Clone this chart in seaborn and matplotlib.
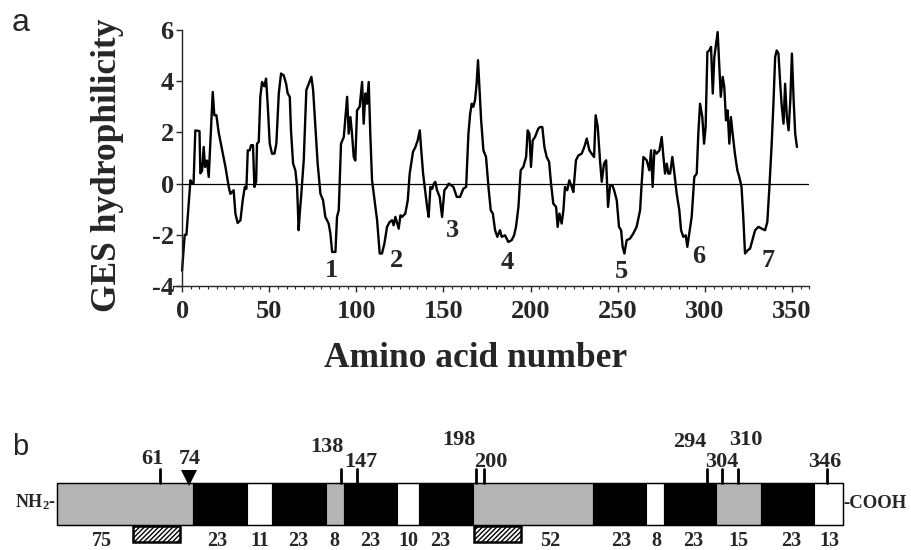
import numpy as np
import pandas as pd
import matplotlib.pyplot as plt
import seaborn as sns
from matplotlib.patches import Rectangle
from matplotlib.ticker import MultipleLocator

# --- panel a: GES hydrophilicity profile ---
residue = [
    0.0, 1.5, 2.5, 4.8, 5.7, 6.6, 7.6, 10.0, 10.5, 11.5, 12.4, 13.2, 14.3, 15.3, 17.6,
    18.5, 19.7, 21.0, 23.0, 24.9, 26.8, 27.7, 29.6, 30.6, 31.9, 33.5, 34.8, 36.0, 36.9,
    37.7, 38.8, 39.6, 40.7, 41.5, 42.5, 43.0, 44.0, 44.9, 45.9, 47.2, 48.2, 49.2, 50.3,
    51.6, 53.0, 54.1, 55.5, 56.8, 58.3, 59.7, 60.6, 61.8, 62.5, 63.7, 65.0, 66.0, 66.9,
    67.5, 68.3, 69.8, 71.3, 72.7, 74.2, 75.2, 76.5, 77.8, 79.4, 80.9, 82.2, 84.1, 85.1,
    86.1, 88.0, 88.9, 89.9, 91.2, 92.8, 94.7, 95.6, 96.6, 97.5, 98.5, 99.4, 100.4, 101.9,
    103.3, 104.2, 105.2, 106.1, 107.1, 108.0, 109.0, 110.9, 111.9, 113.4, 114.7, 116.1,
    117.6, 119.1, 120.5, 121.4, 122.4, 124.3, 125.3, 126.2, 128.1, 129.5, 130.6, 132.5,
    133.9, 135.2, 136.4, 137.1, 138.3, 139.6, 140.6, 141.5, 142.5, 143.5, 144.5, 145.3,
    146.3, 147.8, 149.2, 150.5, 152.0, 153.0, 155.7, 157.6, 159.5, 161.4, 163.0, 164.3,
    165.3, 166.2, 167.1, 168.1, 169.0, 169.8, 170.6, 171.6, 172.9, 174.4, 175.8, 177.1,
    178.3, 179.6, 180.9, 182.4, 183.4, 185.3, 187.2, 189.1, 190.5, 191.6, 193.0, 194.3,
    195.8, 197.4, 198.3, 199.3, 200.2, 201.2, 202.5, 204.4, 205.4, 206.7, 207.9, 209.2,
    210.6, 211.7, 213.0, 214.6, 215.5, 216.5, 217.8, 218.8, 219.7, 221.0, 222.2, 223.6,
    224.5, 226.0, 227.4, 229.3, 230.8, 232.2, 233.7, 235.0, 236.4, 237.3, 238.5, 239.8,
    240.8, 242.1, 243.3, 244.4, 245.6, 246.9, 247.9, 249.4, 250.7, 251.9, 252.8, 253.8,
    255.1, 257.0, 258.9, 260.8, 262.8, 263.7, 264.7, 266.6, 268.1, 269.1, 270.0, 271.0,
    272.3, 273.9, 275.2, 276.2, 277.1, 278.1, 279.0, 280.0, 281.3, 282.5, 283.8, 285.3,
    286.3, 287.6, 289.0, 289.9, 291.0, 292.4, 293.9, 295.3, 296.2, 297.2, 298.5, 299.5,
    300.4, 301.4, 302.5, 303.5, 304.5, 305.4, 306.4, 307.3, 308.3, 309.1, 310.2, 311.1,
    312.1, 313.0, 314.0, 314.9, 315.9, 317.2, 318.6, 319.7, 321.0, 322.0, 323.0, 324.6,
    325.9, 327.2, 328.8, 330.7, 332.6, 334.5, 335.8, 337.0, 338.4, 339.3, 340.3, 341.2,
    342.2, 343.2, 344.1, 345.1, 346.0, 347.0, 348.0, 349.0, 349.9, 350.9, 351.8, 352.8,
]
hydrophilicity = [
    -3.40, -2.00, -2.00, 0.13, 0.00, 0.02, 2.08, 2.05, 0.40, 0.50, 1.43, 0.65, 0.90, 0.26, 3.58,
    2.67, 2.67, 2.00, 1.30, 0.65, -0.13, -0.40, -0.26, -1.17, -1.54, -1.43, -0.65, -0.13, -0.20,
    1.30, 1.30, 1.50, 1.50, -0.13, 0.07, 1.56, 1.63, 3.39, 3.97, 3.80, 4.10, 3.00, 1.56,
    1.17, 1.17, 1.56, 3.52, 4.30, 4.23, 3.90, 3.52, 3.39, 2.08, 0.78, 0.52, -0.13, -1.82,
    -1.17, -0.52, 0.90, 3.65, 3.90, 4.17, 3.65, 2.20, 0.78, -0.40, -0.65, -1.30, -1.56, -1.95,
    -2.67, -2.67, -1.30, -1.04, 1.56, 1.82, 3.39, 1.95, 2.60, 1.95, 1.04, 0.90, 2.86, 3.00,
    3.97, 2.34, 3.52, 3.12, 3.97, 1.95, 0.13, -0.91, -1.43, -2.73, -2.73, -2.34,
    -1.69, -1.50, -1.43, -1.63, -1.30, -1.76, -1.24, -1.30, -1.17, -0.65, 0.39, 1.24,
    1.43, 1.69, 2.08, 1.43, 0.39, -0.33, -0.91, -1.30, -0.13, -0.20, 0.00, 0.07,
    -0.26, -0.52, -1.30, -0.26, -0.13, 0.00, -0.13, -0.52, -0.52, -0.20, -0.13, 1.95,
    2.73, 3.12, 3.00, 3.26, 3.90, 4.82, 3.78, 2.47, 1.30, 1.04, -0.13, -1.04,
    -1.17, -1.82, -2.08, -1.82, -2.08, -2.02, -2.28, -2.21, -2.02, -1.69, -0.91, 0.52,
    0.65, 1.04, 2.08, 1.95, 0.65, 1.69, 1.82, 2.15, 2.21, 2.21, 1.43, 1.04,
    0.85, 0.00, -0.78, -0.91, -1.69, -1.17, -1.56, -1.04, -0.13, -0.26, 0.13, -0.13,
    -0.33, 0.91, 1.10, 1.17, 1.43, 1.76, 1.30, 1.17, 1.04, 2.67, 2.21, 0.91,
    0.07, 0.78, 0.91, -0.91, -0.07, -0.07, -0.26, -0.65, -1.69, -1.82, -2.47, -2.73,
    -2.21, -2.15, -1.95, -1.69, -1.04, 0.00, 1.04, 0.91, 0.52, 1.30, -0.13, 1.30,
    1.17, 1.30, 1.82, 1.04, 0.39, 0.78, 0.39, 0.39, 1.04, 0.39, -0.39, -1.04,
    -1.82, -2.08, -2.02, -2.47, -1.95, -1.30, 0.26, 0.39, 1.95, 3.12, 2.60, 1.56,
    2.21, 5.14, 5.20, 5.34, 3.52, 4.95, 5.47, 5.92, 4.56, 3.39, 4.17, 3.78,
    2.47, 2.86, 1.56, 2.60, 1.95, 1.17, 0.52, 0.26, -0.13, -1.30, -2.73, -2.60,
    -2.54, -2.21, -1.82, -1.69, -1.76, -1.82, -1.50, -0.13, 1.69, 3.12, 4.95, 5.20,
    5.08, 3.90, 3.00, 2.34, 3.90, 2.60, 2.08, 3.26, 5.08, 3.26, 1.95, 1.43,
]
loop_labels = ["1", "2", "3", "4", "5", "6", "7"]
loop_label_xy = [(86, -3.4), (123.3, -3.0), (154.9, -1.82), (186.3, -3.1),
                 (252.3, -3.45), (296.2, -2.86), (336.4, -3.0)]

# --- panel b: domain diagram ---
segment_lengths = [75, 23, 11, 23, 8, 23, 10, 23, 52, 23, 8, 23, 15, 23, 13]
segment_kind = ["grey", "tm", "loop", "tm", "grey", "tm", "loop", "tm",
                "grey", "tm", "loop", "tm", "grey", "tm", "loop"]
site_labels = ["61", "74", "138", "147", "198", "200", "294", "304", "310", "346"]

# schematic layout of the diagram (pixels from bar start, not to scale)
seg_edges = [0, 136, 190, 214.4, 268.4, 286.7, 340, 362, 416, 535.4, 588.7,
             606.7, 658.4, 703.4, 757, 786]
site_x = [102.7, 132, 283.7, 299.4, 418.4, 426.7, 649.4, 664.4, 681, 770]
site_text_x = [95, 132, 270, 304, 402, 434, 632, 664, 689, 767]
site_text_y = [459, 459, 447, 462, 440, 462, 442, 462, 440, 462]
len_text_dx = [-23, -3, 0, 0, 0, 0, 0, -6, 17, 2, 1, 3, 0, 4, 1]
hatch_spans = [(76, 122.7), (416.7, 463.7)]
BAR_X0 = 57.3

kind_colors = {"grey": "#b5b5b5", "tm": "black", "loop": "white"}

sns.set_style("ticks")
plt.rcParams["font.family"] = ["Liberation Serif", "DejaVu Serif"]
plt.rcParams["font.weight"] = "bold"
plt.rcParams["axes.unicode_minus"] = False
plt.rcParams["mathtext.fontset"] = "custom"
plt.rcParams["mathtext.rm"] = "Liberation Serif:bold"
plt.rcParams["mathtext.it"] = "Liberation Serif:bold"
plt.rcParams["mathtext.bf"] = "Liberation Serif:bold"

fig = plt.figure(figsize=(9.12, 5.5), dpi=100)

# ---------------- panel a ----------------
ax = fig.add_axes([173 / 912, 0.48, 636.5 / 912, 256 / 550])
df = pd.DataFrame({"residue": residue, "ges": hydrophilicity})
sns.lineplot(data=df, x="residue", y="ges", color="black", linewidth=1.7,
             sort=False, ax=ax)
ax.plot([0, 360], [0, 0], color="black", linewidth=0.9)

ax.set_xlim(-5.2, 360)
ax.set_ylim(-4, 6)
ax.spines["top"].set_visible(False)
ax.spines["right"].set_visible(False)
ax.spines["left"].set_position(("data", 0))
ax.spines["left"].set_linewidth(1.0)
ax.spines["bottom"].set_linewidth(1.0)
ax.set_xticks(np.arange(0, 351, 50))
ax.xaxis.set_minor_locator(MultipleLocator(5))
ax.set_yticks(np.arange(-4, 7, 2))
ax.tick_params(axis="both", which="major", length=4, width=1, labelsize=19, pad=2)
ax.tick_params(axis="x", which="major", pad=6)
ax.tick_params(axis="x", which="minor", length=2.5, width=0.8)
for lbl in ax.get_xticklabels() + ax.get_yticklabels():
    lbl.set_fontweight("bold")

ax.set_xlabel("Amino acid number", fontsize=25.5, fontweight="bold")
ax.set_ylabel("GES hydrophilicity", fontsize=25.5, fontweight="bold")
ax.xaxis.set_label_coords((476 - 173) / 636.5, -(342 - 286) / 256)
ax.yaxis.set_label_coords(-(173 - 124) / 636.5, 0.47)

for txt, (lx, ly) in zip(loop_labels, loop_label_xy):
    ax.text(lx, ly, txt, fontsize=19, fontweight="bold", ha="center", va="center")

fig.text(12 / 912, 1 - 23 / 550, "a", fontsize=23, family="Liberation Sans",
         fontweight="normal", ha="left", va="center")

# ---------------- panel b ----------------
ax2 = fig.add_axes([0, 0, 1, 130 / 550])
ax2.set_xlim(0, 912)
ax2.set_ylim(550, 420)
ax2.axis("off")

lefts = [BAR_X0 + e for e in seg_edges[:-1]]
widths = [b - a for a, b in zip(seg_edges[:-1], seg_edges[1:])]
ax2.barh(y=504, width=widths, left=lefts, height=42,
         color=[kind_colors[k] for k in segment_kind],
         edgecolor="black", linewidth=0.8, align="center")
ax2.add_patch(Rectangle((BAR_X0, 483), seg_edges[-1], 42, fill=False,
                        edgecolor="black", linewidth=1.0))

for lf, w, n, dx in zip(lefts, widths, segment_lengths, len_text_dx):
    ax2.text(lf + w / 2 + dx, 546, str(n), fontsize=14.5, fontweight="bold",
             ha="center", va="baseline")

for x0, x1 in hatch_spans:
    ax2.add_patch(Rectangle((BAR_X0 + x0, 526), x1 - x0, 15.5, facecolor="white",
                            edgecolor="black", hatch="///////", linewidth=1.8))

for lbl, sx, tx, ty in zip(site_labels, site_x, site_text_x, site_text_y):
    if lbl == "74":
        ax2.plot(BAR_X0 + sx, 477.5, marker="v", markersize=11, color="black",
                 markeredgewidth=0)
    else:
        ax2.plot([BAR_X0 + sx, BAR_X0 + sx], [483, 469], color="black", linewidth=2)
    ax2.text(BAR_X0 + tx, ty, lbl, fontsize=16, fontweight="bold",
             ha="center", va="center")

ax2.text(BAR_X0 - 1, 502, "NH$_2$-", fontsize=13, fontweight="bold",
         ha="right", va="center")
ax2.text(BAR_X0 + seg_edges[-1], 504, "-COOH", fontsize=13.5, fontweight="bold",
         ha="left", va="center")

fig.text(12 / 912, 1 - 447 / 550, "b", fontsize=21, family="Liberation Sans",
         fontweight="normal", ha="left", va="center")

fig.savefig("out.png", dpi=100)
